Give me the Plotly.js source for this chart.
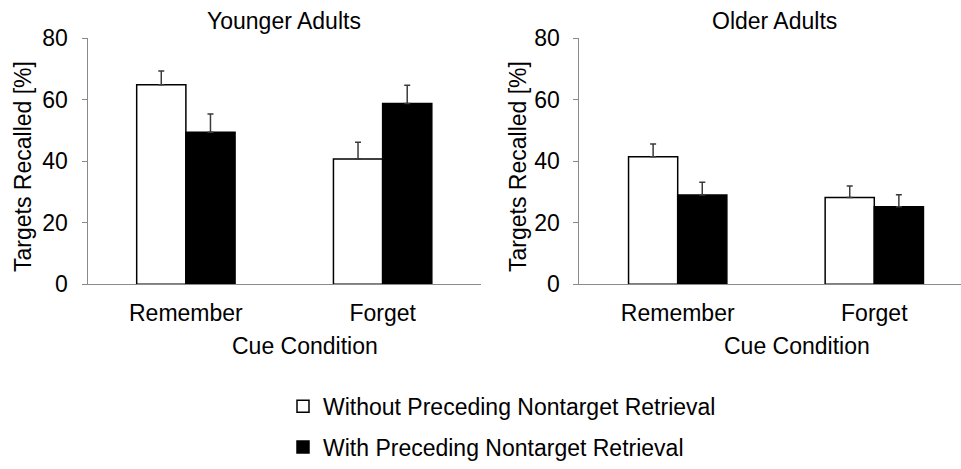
<!DOCTYPE html>
<html>
<head>
<meta charset="utf-8">
<script src="https://cdn.plot.ly/plotly-3.0.1.min.js"></script>
<style>
html,body{margin:0;padding:0;background:#fff;}
#chart{width:961px;height:469px;}
</style>
</head>
<body>
<div id="chart"></div>
<script>
// ---- data ----
const categories = ['Remember', 'Forget'];
const seriesNames = ['Without Preceding Nontarget Retrieval', 'With Preceding Nontarget Retrieval'];
const panelTitles = ['Younger Adults', 'Older Adults'];

const youngerWithout = [64.8, 40.7];
const youngerWithoutErr = [4.5, 5.4];
const youngerWith = [49.4, 58.7];
const youngerWithErr = [5.9, 6.0];

const olderWithout = [41.4, 28.2];
const olderWithoutErr = [4.2, 3.7];
const olderWith = [29.0, 25.2];
const olderWithErr = [4.1, 3.9];

const yTicks = [0, 20, 40, 60, 80];
const yTitle = 'Targets Recalled [%]';
const xTitle = 'Cue Condition';

// ---- layout helpers (pixel -> paper) ----
const W = 961, H = 469;
const px = v => v / W;
const py = v => 1 - v / H;
const FONT = 'Liberation Sans, Arial, sans-serif';
const FS = 23;
const zeros = [0, 0];

function barTrace(name, y, err, fill, xa, ya, show, group) {
  return {
    type: 'bar', name: name, x: categories, y: y,
    xaxis: xa, yaxis: ya, showlegend: show, legendgroup: group,
    marker: {color: fill, line: {color: '#000', width: 1.5}},
    error_y: {type: 'data', symmetric: false, array: err, arrayminus: zeros,
              color: '#3a3a3a', thickness: 1.5, width: 3},
    hoverinfo: 'x+y'
  };
}

const data = [
  barTrace(seriesNames[0], youngerWithout, youngerWithoutErr, '#ffffff', 'x', 'y', true, 'a'),
  barTrace(seriesNames[1], youngerWith, youngerWithErr, '#000000', 'x', 'y', true, 'b'),
  barTrace(seriesNames[0], olderWithout, olderWithoutErr, '#ffffff', 'x2', 'y2', false, 'a'),
  barTrace(seriesNames[1], olderWith, olderWithErr, '#000000', 'x2', 'y2', false, 'b')
];

const axisColor = '#8a8a8a';
function yAxis(anchor) {
  return {
    domain: [py(291), py(39)], anchor: anchor, range: [0, 80],
    tickvals: yTicks, ticktext: yTicks.map(String),
    showline: true, linecolor: axisColor, linewidth: 1,
    ticks: 'outside', ticklen: 5, tickcolor: axisColor, tickwidth: 1,
    ticklabelstandoff: 9,
    showgrid: false, zeroline: false,
    tickfont: {family: FONT, size: FS, color: '#000'}
  };
}
function xAxis(dom, range, anchor) {
  return {
    domain: dom, anchor: anchor, type: 'category', range: range,
    showline: true, linecolor: axisColor, linewidth: 1,
    ticks: '', showgrid: false, zeroline: false,
    ticklabelstandoff: 8,
    tickfont: {family: FONT, size: FS, color: '#000'}
  };
}

function ann(text, x, y, angle) {
  return {text: text, x: px(x), y: py(y), xref: 'paper', yref: 'paper',
          xanchor: 'center', yanchor: 'middle', showarrow: false,
          textangle: angle || 0, font: {family: FONT, size: FS, color: '#000'}};
}

const layout = {
  width: W, height: H,
  margin: {l: 0, r: 0, t: 0, b: 0},
  paper_bgcolor: '#fff', plot_bgcolor: '#fff',
  barmode: 'group', bargap: 0.5, bargroupgap: 0,
  font: {family: FONT, size: FS, color: '#000'},
  xaxis: xAxis([px(87.5), px(481)], [-0.5, 1.5], 'y'),
  yaxis: yAxis('x'),
  xaxis2: xAxis([px(579.4), 1], [-0.5, 1.441], 'y2'),
  yaxis2: yAxis('x2'),
  showlegend: true,
  legend: {x: px(283), y: py(394), xanchor: 'left', yanchor: 'top',
           traceorder: 'grouped', tracegroupgap: 8,
           font: {family: FONT, size: FS, color: '#000'},
           bgcolor: 'rgba(0,0,0,0)', borderwidth: 0},
  annotations: [
    ann(panelTitles[0], 284, 21),
    ann(panelTitles[1], 774, 21),
    ann(yTitle, 23, 171, -90),
    ann(yTitle, 518, 171, -90),
    ann(xTitle, 305, 354),
    ann(xTitle, 797, 354)
  ]
};

Plotly.newPlot('chart', data, layout, {displayModeBar: false, staticPlot: true});
</script>
</body>
</html>
